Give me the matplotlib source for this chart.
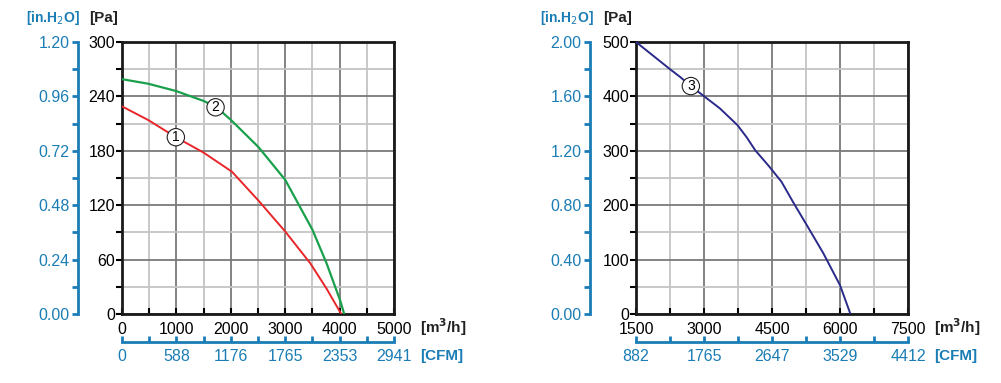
import numpy as np
import matplotlib
matplotlib.use("Agg")
import matplotlib.pyplot as plt
from matplotlib.ticker import MultipleLocator, FixedLocator

# --- data ---
# left chart: flow [m3/h] vs pressure [Pa]
q1 = [0, 480, 990, 1500, 2020, 2510, 3000, 3460, 3760, 4030]
p1 = [229, 214, 195, 178, 157, 125, 91, 56, 28, 0]
q2 = [0, 480, 990, 1500, 1740, 2020, 2510, 3000, 3500, 3760, 4010, 4085]
p2 = [259, 254, 246, 235, 228, 213, 184, 148, 93, 56, 15, 0]
# right chart
q3 = [1500, 2250, 2470, 2710, 2990, 3350, 3740, 3940, 4130, 4440, 4710, 4970, 5270, 5630, 6000, 6230]
p3 = [500, 450, 436, 419, 401, 378, 347, 325, 301, 271, 243, 205, 163, 112, 53, 0]

left_xticks = [0, 1000, 2000, 3000, 4000, 5000]
left_cfm = ["0", "588", "1176", "1765", "2353", "2941"]
left_yticks = [0, 60, 120, 180, 240, 300]
left_inh2o = ["0.00", "0.24", "0.48", "0.72", "0.96", "1.20"]

right_xticks = [1500, 3000, 4500, 6000, 7500]
right_cfm = ["882", "1765", "2647", "3529", "4412"]
right_yticks = [0, 100, 200, 300, 400, 500]
right_inh2o = ["0.00", "0.40", "0.80", "1.20", "1.60", "2.00"]

plt.rcParams["font.family"] = ["Liberation Sans", "DejaVu Sans"]
blue = "#1a7db5"
fs = 11.5

fig = plt.figure(figsize=(10.01, 3.83), dpi=100)
W, H = 1001, 383


def make_panel(x0, xticks, cfm_lab, yticks, inh_lab, sec_x):
    ax = fig.add_axes([x0 / W, (H - 314) / H, 272 / W, 272 / H])
    ax.set_xlim(xticks[0], xticks[-1])
    ax.set_ylim(yticks[0], yticks[-1])
    dx = xticks[1] - xticks[0]
    dy = yticks[1] - yticks[0]
    ax.xaxis.set_major_locator(FixedLocator(xticks))
    ax.yaxis.set_major_locator(FixedLocator(yticks))
    ax.xaxis.set_minor_locator(MultipleLocator(dx / 2))
    ax.yaxis.set_minor_locator(MultipleLocator(dy / 2))
    ax.grid(which="major", color="#7a7a7a", lw=1.3)
    ax.grid(which="minor", color="#c4c4c4", lw=1.3)
    ax.set_axisbelow(True)
    for s in ax.spines.values():
        s.set_linewidth(2)
        s.set_color("#1a1a1a")
    ax.tick_params(axis="x", which="both", direction="in", length=4, width=1.5,
                   labelsize=fs, pad=5.5)
    ax.tick_params(axis="y", which="both", direction="out", length=4, width=1.5,
                   labelsize=fs, pad=1)
    ax.set_xticklabels([str(t) for t in xticks])

    # secondary pressure axis (in.H2O)
    sy = ax.secondary_yaxis((sec_x - x0) / 272)
    sy.yaxis.set_major_locator(FixedLocator(yticks))
    sy.yaxis.set_minor_locator(MultipleLocator(dy / 2))
    sy.set_yticklabels(inh_lab)
    sy.spines["left"].set_color(blue)
    sy.spines["left"].set_linewidth(2)
    sy.tick_params(which="both", colors=blue, length=4, width=2,
                   labelsize=fs, labelcolor=blue, pad=2)

    # secondary flow axis (CFM)
    sx = ax.secondary_xaxis(-28 / 272)
    sx.xaxis.set_major_locator(FixedLocator(xticks))
    sx.xaxis.set_minor_locator(MultipleLocator(dx / 2))
    sx.set_xticklabels(cfm_lab)
    sx.spines["bottom"].set_color(blue)
    sx.spines["bottom"].set_linewidth(2)
    sx.tick_params(which="both", direction="in", colors=blue, length=4,
                   width=2, labelsize=fs, labelcolor=blue, pad=5)
    return ax


def circ(ax, x, y, t):
    ax.text(x, y, t, fontsize=10, ha="center", va="center", zorder=5,
            bbox=dict(boxstyle="circle,pad=0.12", fc="white", ec="#222222", lw=0.8))


axL = make_panel(122, left_xticks, left_cfm, left_yticks, left_inh2o, 78)
axL.plot(q1, p1, color="#e8262a", lw=1.4, zorder=3)
axL.plot(q2, p2, color="#1aa04c", lw=1.6, zorder=3)
circ(axL, 990, 195, "1")
circ(axL, 1720, 228, "2")

axR = make_panel(636, right_xticks, right_cfm, right_yticks, right_inh2o, 590)
axR.plot(q3, p3, color="#2a2a8a", lw=1.4, zorder=3)
circ(axR, 2710, 419, "3")

# unit labels
for xl, xr in [(80, 118), (594, 632)]:
    fig.text(xl / W, 1 - 18 / H, "[in.H$_2$O]", color=blue, fontsize=10,
             fontweight="bold", ha="right", va="center")
    fig.text(xr / W, 1 - 18 / H, "[Pa]", color="#222222", fontsize=11,
             fontweight="bold", ha="right", va="center")
for x in [420, 934]:
    fig.text(x / W, 1 - 327 / H, "[m$^\\mathbf{3}$/h]", color="#222222", fontsize=11,
             fontweight="bold", ha="left", va="center")
    fig.text(x / W, 1 - 356 / H, "[CFM]", color=blue, fontsize=11,
             fontweight="bold", ha="left", va="center")

fig.savefig("out.png", dpi=100)
